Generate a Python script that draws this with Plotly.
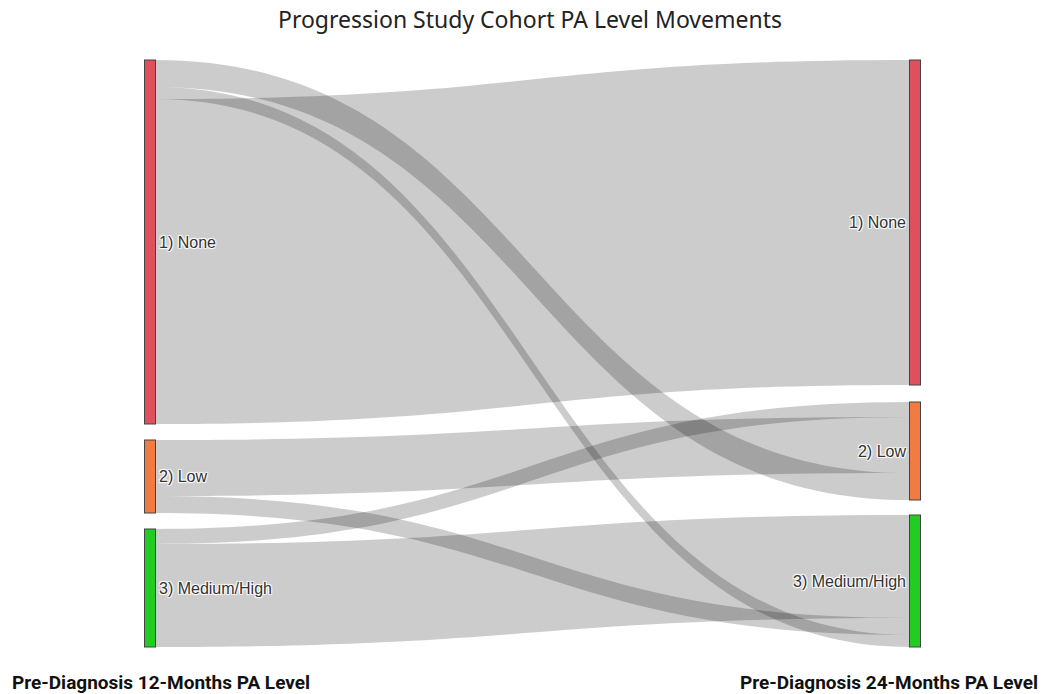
import plotly.graph_objects as go

# ---- data ----
levels = ["1) None", "2) Low", "3) Medium/High"]
level_colors = ["#E0505C", "#F07C44", "#22CC22"]

# links: source level (12 months) -> target level (24 months)
link_source = [0, 0, 0, 1, 1, 2, 2]
link_target = [0, 1, 2, 1, 2, 1, 2]
link_value = [325, 27, 12, 56, 17, 15, 103]

# stacking order of the bands inside each node (as in the original figure)
left_band_order = {0: [1, 2, 0], 1: [1, 2], 2: [1, 2]}     # by target level
right_band_order = {0: [0], 1: [2, 1, 0], 2: [2, 1, 0]}    # by source level

# ---- layout geometry (page pixels; body margin set to 0) ----
W, H = 1049, 694
DOM_TOP = 60
PAD = 16
TOTAL = sum(link_value)
DOM_H = TOTAL + 2 * PAD           # node scale = 1 px per unit
B_MARGIN = H - DOM_TOP - DOM_H
X_LEFT = 150 / W
X_RIGHT = 915 / W
left_tops = [60, 440, 529]
right_tops = [60, 402, 515]


def frac_y(center_px):
    return (center_px - DOM_TOP) / DOM_H


left_tot = [sum(v for s, v in zip(link_source, link_value) if s == i) for i in range(3)]
right_tot = [sum(v for t, v in zip(link_target, link_value) if t == i) for i in range(3)]

# ---- trace 1: the flows, each band with its own sub-nodes so the order matches ----
sub_x, sub_y, sub_col = [], [], []
a_src, a_tgt, a_val = [], [], []
for k, (s, t, v) in enumerate(zip(link_source, link_target, link_value)):
    off_l = sum(link_value[j] for j in range(len(link_value))
                if link_source[j] == s and left_band_order[s].index(link_target[j]) < left_band_order[s].index(t))
    off_r = sum(link_value[j] for j in range(len(link_value))
                if link_target[j] == t and right_band_order[t].index(link_source[j]) < right_band_order[t].index(s))
    sub_x += [X_LEFT, X_RIGHT]
    sub_y += [frac_y(left_tops[s] + off_l + v / 2), frac_y(right_tops[t] + off_r + v / 2)]
    sub_col += [level_colors[s], level_colors[t]]
    a_src.append(2 * k)
    a_tgt.append(2 * k + 1)
    a_val.append(v)

n_col = len(link_value)
flows = go.Sankey(
    arrangement="fixed",
    domain=dict(x=[0, 1], y=[0, 1]),
    node=dict(label=[""] * (2 * n_col), color=sub_col, x=sub_x, y=sub_y,
              pad=2 * PAD / (n_col - 1), thickness=11, line=dict(width=0)),
    link=dict(source=a_src, target=a_tgt, value=a_val, color="rgba(0,0,0,0.2)"),
    hoverinfo="skip",
)

# ---- trace 2: the visible nodes with labels ----
nodes = go.Sankey(
    arrangement="fixed",
    domain=dict(x=[0, 1], y=[0, 1]),
    node=dict(
        label=levels + levels,
        color=level_colors + level_colors,
        x=[X_LEFT] * 3 + [X_RIGHT] * 3,
        y=[frac_y(left_tops[i] + left_tot[i] / 2) for i in range(3)]
          + [frac_y(right_tops[i] + right_tot[i] / 2) for i in range(3)],
        pad=PAD,
        thickness=11,
        line=dict(color="#444", width=1),
    ),
    link=dict(source=link_source, target=[t + 3 for t in link_target],
              value=link_value, color="rgba(0,0,0,0)"),
    textfont=dict(family="Liberation Sans, Arial", size=16, color="#333"),
)

fig = go.Figure([flows, nodes])

ann_y = -(682 - DOM_TOP - DOM_H) / DOM_H
fig.update_layout(
    width=W,
    height=H,
    paper_bgcolor="white",
    plot_bgcolor="white",
    margin=dict(l=0, r=0, t=DOM_TOP, b=B_MARGIN),
    title=dict(
        text="Progression Study Cohort PA Level Movements",
        x=530 / W, xanchor="center",
        y=1 - 20 / H, yanchor="middle",
        font=dict(family="Noto Sans, Open Sans", size=23, color="#222"),
    ),
    annotations=[
        dict(text="<b>Pre-Diagnosis 12-Months PA Level</b>",
             x=10 / W, xanchor="left", y=ann_y, yanchor="middle",
             xref="paper", yref="paper", showarrow=False,
             font=dict(family="Roboto", size=19, color="#111")),
        dict(text="<b>Pre-Diagnosis 24-Months PA Level</b>",
             x=1040 / W, xanchor="right", y=ann_y, yanchor="middle",
             xref="paper", yref="paper", showarrow=False,
             font=dict(family="Roboto", size=19, color="#111")),
    ],
)

fig.write_html("out.html", config={"displayModeBar": False},
               post_script="document.body.style.margin='0px';")
